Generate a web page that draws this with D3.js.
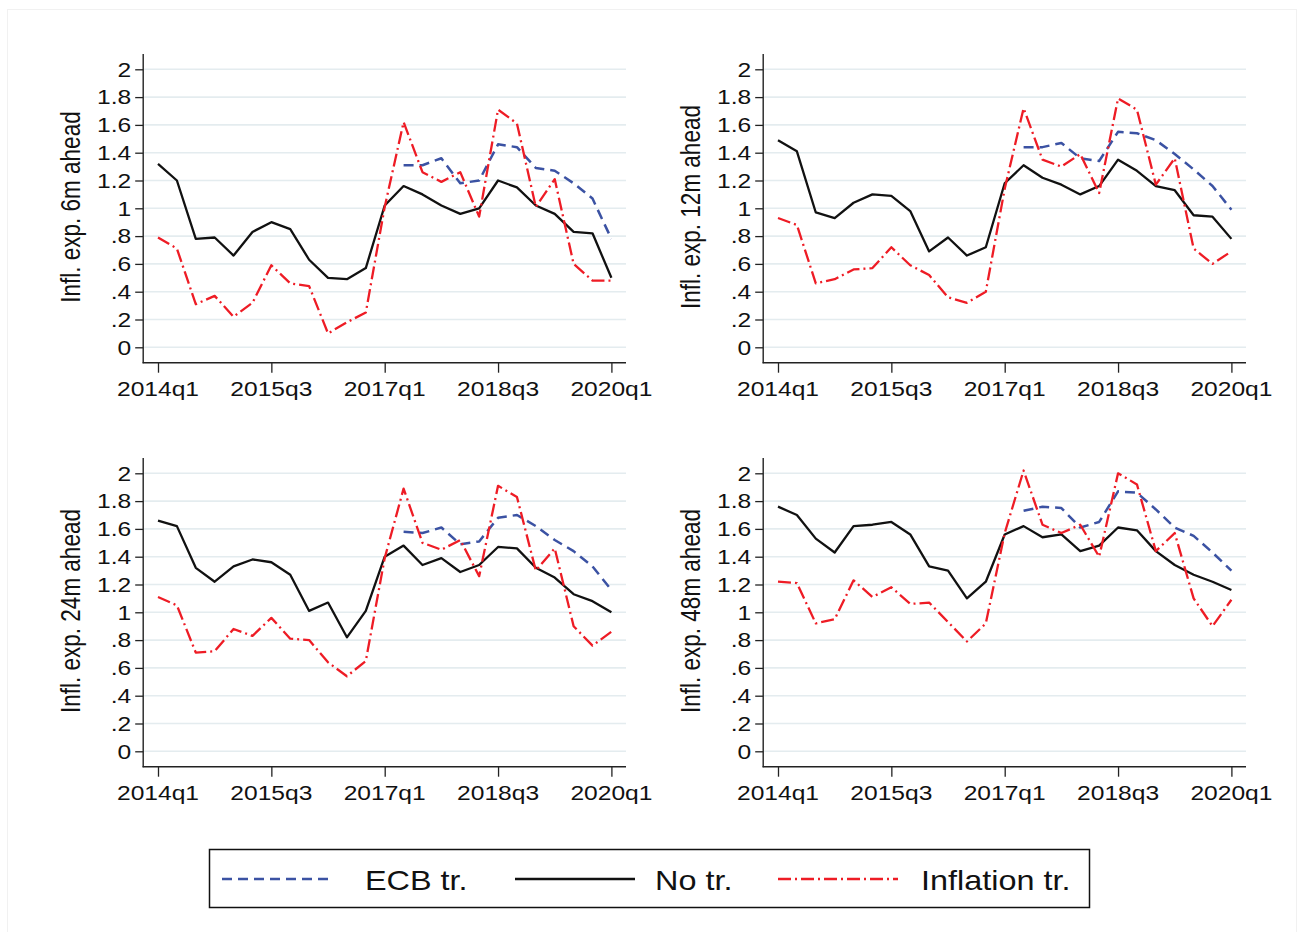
<!DOCTYPE html>
<html>
<head>
<meta charset="utf-8">
<script src="https://cdn.jsdelivr.net/npm/d3@7"></script>
<style>
  html, body { margin: 0; padding: 0; background: #fff; }
  svg { display: block; }
  text { font-family: "Liberation Sans", Arial, Helvetica, sans-serif; fill: #111; }
</style>
</head>
<body>
<svg id="chart" width="1301" height="932"></svg>
<script>
// Quarterly time axis, 2014q1 .. 2020q1
const quarters = [
  "2014q1","2014q2","2014q3","2014q4","2015q1","2015q2","2015q3","2015q4",
  "2016q1","2016q2","2016q3","2016q4","2017q1","2017q2","2017q3","2017q4",
  "2018q1","2018q2","2018q3","2018q4","2019q1","2019q2","2019q3","2019q4","2020q1"
];
const xTickLabels = ["2014q1", "2015q3", "2017q1", "2018q3", "2020q1"];
const yTickValues = [0, 0.2, 0.4, 0.6, 0.8, 1, 1.2, 1.4, 1.6, 1.8, 2];

// 6 months ahead
const noTr6m   = [1.32,1.20,0.78,0.79,0.66,0.83,0.90,0.85,0.63,0.50,0.49,0.57,1.02,1.16,1.10,1.02,0.96,1.00,1.20,1.15,1.02,0.96,0.83,0.82,0.50];
const inflTr6m = [0.79,0.71,0.31,0.37,0.22,0.32,0.59,0.46,0.44,0.10,0.18,0.25,1.01,1.62,1.26,1.19,1.26,0.94,1.71,1.61,1.01,1.21,0.60,0.48,0.48];
const ecbTr6m  = [null,null,null,null,null,null,null,null,null,null,null,null,null,1.31,1.31,1.36,1.18,1.20,1.46,1.44,1.29,1.27,1.18,1.07,0.78];

// 12 months ahead
const noTr12m   = [1.49,1.41,0.97,0.93,1.04,1.10,1.09,0.98,0.69,0.79,0.66,0.72,1.18,1.31,1.22,1.17,1.10,1.16,1.35,1.27,1.16,1.13,0.95,0.94,0.78];
const inflTr12m = [0.93,0.88,0.46,0.49,0.56,0.57,0.72,0.59,0.52,0.36,0.32,0.40,1.14,1.72,1.35,1.30,1.39,1.11,1.79,1.71,1.17,1.36,0.71,0.60,0.69];
const ecbTr12m  = [null,null,null,null,null,null,null,null,null,null,null,null,null,1.44,1.44,1.47,1.36,1.34,1.55,1.54,1.49,1.39,1.28,1.16,0.99];

// 24 months ahead
const noTr24m   = [1.66,1.62,1.32,1.22,1.33,1.38,1.36,1.27,1.01,1.07,0.82,1.01,1.40,1.48,1.34,1.39,1.29,1.34,1.47,1.46,1.32,1.25,1.13,1.08,1.00];
const inflTr24m = [1.11,1.05,0.71,0.72,0.88,0.83,0.96,0.81,0.80,0.64,0.54,0.65,1.39,1.89,1.50,1.45,1.52,1.26,1.91,1.83,1.30,1.46,0.90,0.76,0.86];
const ecbTr24m  = [null,null,null,null,null,null,null,null,null,null,null,null,null,1.58,1.57,1.61,1.49,1.51,1.68,1.70,1.62,1.52,1.44,1.33,1.16];

// 48 months ahead
const noTr48m   = [1.76,1.70,1.53,1.43,1.62,1.63,1.65,1.56,1.33,1.30,1.10,1.22,1.56,1.62,1.54,1.56,1.44,1.48,1.61,1.59,1.44,1.34,1.27,1.22,1.16];
const inflTr48m = [1.22,1.21,0.92,0.95,1.23,1.11,1.18,1.06,1.07,0.93,0.79,0.92,1.57,2.02,1.63,1.57,1.63,1.40,2.00,1.92,1.44,1.57,1.10,0.90,1.09];
const ecbTr48m  = [null,null,null,null,null,null,null,null,null,null,null,null,null,1.73,1.76,1.75,1.61,1.65,1.87,1.86,1.74,1.61,1.55,1.43,1.30];

const panelTitles = ["Infl. exp. 6m ahead", "Infl. exp. 12m ahead", "Infl. exp. 24m ahead", "Infl. exp. 48m ahead"];
const seriesNames = ["ECB tr.", "No tr.", "Inflation tr."];

const panels = [
  { title: panelTitles[0], ecb: ecbTr6m,  no: noTr6m,  infl: inflTr6m,  dx: 0,   dy: 0 },
  { title: panelTitles[1], ecb: ecbTr12m, no: noTr12m, infl: inflTr12m, dx: 620, dy: 0 },
  { title: panelTitles[2], ecb: ecbTr24m, no: noTr24m, infl: inflTr24m, dx: 0,   dy: 404 },
  { title: panelTitles[3], ecb: ecbTr48m, no: noTr48m, infl: inflTr48m, dx: 620, dy: 404 }
];

// Line styles
const styles = {
  ecb:  { color: "#3b52a3", width: 2.5, dash: "10,6" },
  no:   { color: "#111111", width: 2.3, dash: null },
  infl: { color: "#ee1c25", width: 2.3, dash: "13,4,2,4" }
};

const SX = 1.2;       // horizontal glyph stretch
const FS = 20.5;      // tick label font size
const TS = 22.5;      // axis title font size

const svg = d3.select("#chart");

// faint outer frame
svg.append("rect")
  .attr("x", 7.5).attr("y", 9.5).attr("width", 1289).attr("height", 930)
  .attr("fill", "none").attr("stroke", "#f1f1f1").attr("stroke-width", 1);

function stretchedText(g, x, y, str, opts) {
  return g.append("g")
    .attr("transform", `translate(${x},${y}) scale(${SX},1)` + (opts.rotate ? " rotate(-90)" : ""))
    .append("text")
    .attr("x", 0).attr("y", 0)
    .attr("font-size", opts.size)
    .attr("text-anchor", opts.anchor || "start")
    .text(str);
}

function yLabel(v) {
  if (v === 0) return "0";
  if (v < 1) return "." + Math.round(v * 10);
  return Number.isInteger(v) ? String(v) : v.toFixed(1);
}

panels.forEach(p => {
  const g = svg.append("g").attr("transform", `translate(${p.dx},${p.dy})`);
  const axisX = 143.2, plotRight = 626, axisY = 362.7, axisTop = 54;
  const x = d3.scaleLinear().domain([0, quarters.length - 1]).range([158, 611.4]);
  const y = d3.scaleLinear().domain([0, 2]).range([347.3, 69.3]);

  // grid
  g.append("g").selectAll("line").data(yTickValues).join("line")
    .attr("x1", axisX + 1).attr("x2", plotRight)
    .attr("y1", d => y(d)).attr("y2", d => y(d))
    .attr("stroke", "#e4ecef").attr("stroke-width", 1.6);

  // y axis
  const ya = g.append("g").attr("transform", `translate(${axisX},0)`)
    .call(d3.axisLeft(y).tickValues(yTickValues).tickSize(8).tickFormat(() => ""));
  ya.select(".domain").remove();
  ya.selectAll(".tick line").attr("stroke", "#222").attr("stroke-width", 1.3);
  yTickValues.forEach(v => {
    stretchedText(g, axisX - 12, y(v) + FS * 0.36, yLabel(v), { size: FS, anchor: "end" });
  });
  g.append("line").attr("x1", axisX).attr("x2", axisX).attr("y1", axisTop).attr("y2", axisY + 0.6)
    .attr("stroke", "#222").attr("stroke-width", 1.4);

  // x axis
  const tickIdx = xTickLabels.map(l => quarters.indexOf(l));
  const xa = g.append("g").attr("transform", `translate(0,${axisY})`)
    .call(d3.axisBottom(x).tickValues(tickIdx).tickSize(10).tickFormat(() => ""));
  xa.select(".domain").remove();
  xa.selectAll(".tick line").attr("stroke", "#222").attr("stroke-width", 1.3);
  g.append("line").attr("x1", axisX - 0.6).attr("x2", plotRight).attr("y1", axisY).attr("y2", axisY)
    .attr("stroke", "#222").attr("stroke-width", 1.4);
  tickIdx.forEach((i, k) => {
    stretchedText(g, x(i), axisY + 33, xTickLabels[k], { size: FS, anchor: "middle" });
  });

  // axis title
  stretchedText(g, 80, 207, p.title, { size: TS, anchor: "middle", rotate: true });

  // series
  const line = d3.line().defined(d => d != null).x((d, i) => x(i)).y(d => y(d));
  [["no", p.no], ["ecb", p.ecb], ["infl", p.infl]].forEach(([key, vals]) => {
    const s = styles[key];
    g.append("path").datum(vals)
      .attr("d", line)
      .attr("fill", "none")
      .attr("stroke", s.color)
      .attr("stroke-width", s.width)
      .attr("stroke-linejoin", "round")
      .attr("stroke-dasharray", s.dash);
  });
});

// legend
const lg = svg.append("g");
lg.append("rect").attr("x", 209.5).attr("y", 849.5).attr("width", 880).attr("height", 58)
  .attr("fill", "#fff").attr("stroke", "#111").attr("stroke-width", 1.5);
const legendItems = [
  { key: "ecb",  x1: 222, x2: 332, tx: 365 },
  { key: "no",   x1: 515, x2: 635, tx: 655 },
  { key: "infl", x1: 778, x2: 898, tx: 921 }
];
legendItems.forEach((it, k) => {
  const s = styles[it.key];
  lg.append("line").attr("x1", it.x1).attr("x2", it.x2).attr("y1", 879).attr("y2", 879)
    .attr("stroke", s.color).attr("stroke-width", s.width + 0.2).attr("stroke-dasharray", s.dash);
  stretchedText(lg, it.tx, 890, seriesNames[k], { size: 27, anchor: "start" });
});
</script>
</body>
</html>
